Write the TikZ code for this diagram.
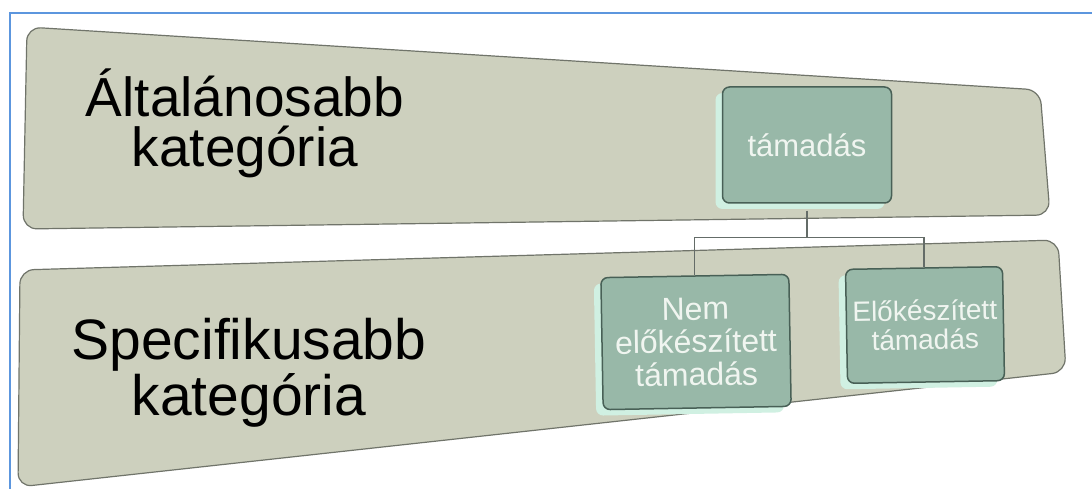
\documentclass[tikz,border=0pt]{standalone}
\usepackage{fontspec}
\setmainfont{Liberation Sans}
\usepackage{tikz}
\usepackage{xcolor}
\usetikzlibrary{calc, shadows}

\definecolor{bandfill}{RGB}{205,208,190}
\definecolor{bandedge}{RGB}{112,116,106}
\definecolor{boxfill}{RGB}{152,184,168}
\definecolor{boxedge}{RGB}{72,96,86}
\definecolor{boxrim}{RGB}{208,240,226}
\definecolor{boxtext}{RGB}{240,245,240}
\definecolor{linkgray}{RGB}{100,108,104}
\definecolor{frameblue}{RGB}{92,150,222}

\begin{document}
\begin{tikzpicture}[x=1pt, y=-1pt,
    band/.style={fill=bandfill, draw=bandedge, line width=1.2pt, rounded corners=14pt},
    catlabel/.style={align=center, inner sep=0pt},
    katbox/.style={
        rectangle,
        rounded corners=7pt,
        draw=boxedge,
        line width=1.5pt,
        fill=boxfill,
        text=boxtext,
        align=center,
        inner sep=1pt,
        general shadow={fill=boxrim, shadow xshift=-7pt, shadow yshift=-6pt}
      },
    link/.style={draw=linkgray, line width=1.2pt}]
    \useasboundingbox (0,0) rectangle (1092,489);
    \fill[white] (0,0) rectangle (1092,489);
    \draw[frameblue, line width=2.4pt] (10,489) -- (10,13) -- (1092,13);
    % the two levels
    \path[band] (27,27) -- (1040,90) -- (1050,215) -- (23,229) -- cycle;
    \path[band] (20,270) -- (1058,240) -- (1066,372) -- (18,487) -- cycle;
    \node[catlabel, font=\fontsize{55}{50}\selectfont] (alt) at (245,123) {Általánosabb\\kategória};
    \node[catlabel, font=\fontsize{57}{56}\selectfont] (spec) at (249,373) {Specifikusabb\\kategória};
    % the tree
    \node[katbox, minimum width=169, minimum height=116, font=\fontsize{31}{33}\selectfont] (tam) at (807,145) {támadás};
    \node[katbox, minimum width=188, minimum height=132, font=\fontsize{32}{33}\selectfont, rotate=1] (nemel) at (696,342) {Nem\\előkészített\\támadás};
    \node[katbox, minimum width=157, minimum height=114, font=\fontsize{28}{29}\selectfont, rotate=1] (elok) at (925,325) {Előkészített\\támadás};
    \draw[link, shorten <=7pt] (tam.south) -- ++(0,34) coordinate (fork);
    \draw[link] (nemel.north) |- (fork) -| (elok.north);
  \end{tikzpicture}
\end{document}
